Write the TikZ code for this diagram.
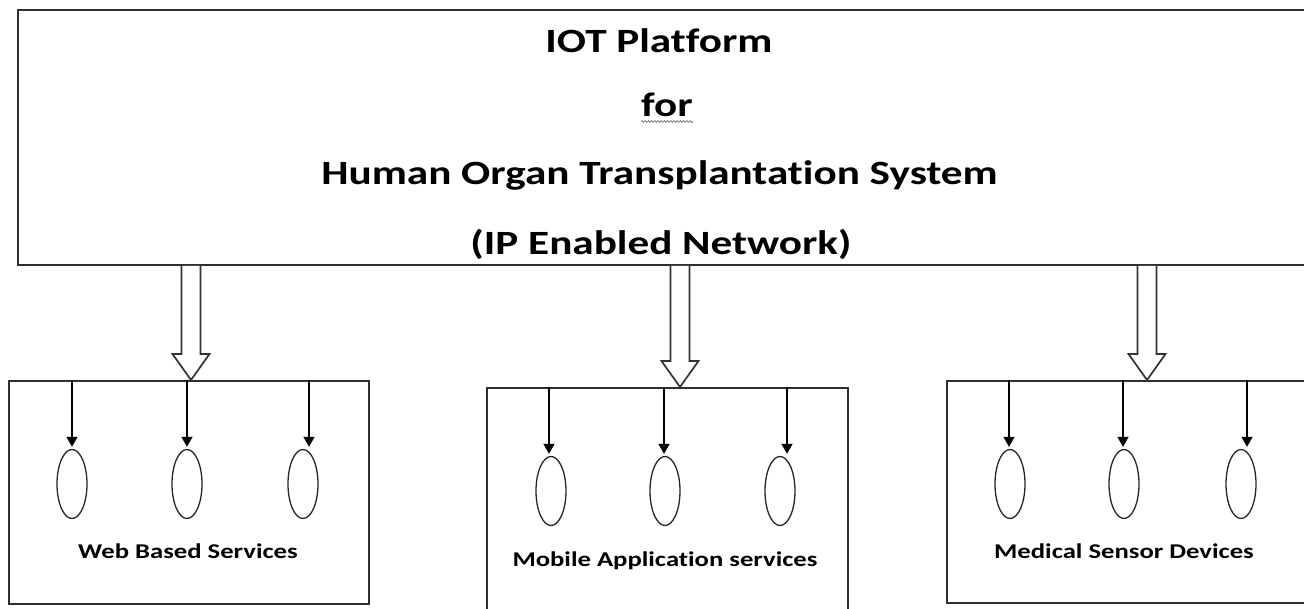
\documentclass[tikz,border=0pt]{standalone}
\usepackage{fontspec}
\usetikzlibrary{arrows.meta,shapes.geometric,decorations.pathmorphing}
\newfontfamily\diagfont{Carlito}[FakeStretch=1.27, RawFeature=-liga, RawFeature=-clig, RawFeature=-calt, RawFeature=-rlig]

\tikzset{
  frame/.style={draw=black!82, line width=2pt, rectangle, inner sep=0pt, anchor=north west},
  pod/.style={draw=black!85, line width=1.3pt, ellipse, minimum width=30pt, minimum height=69pt, inner sep=0pt},
  feed/.style={draw=black, line width=1.4pt, -{Triangle[width=11pt,length=10pt]}},
  hollow/.style={draw=black!80, line width=1.7pt, fill=white, line join=miter},
  heading/.style={font=\diagfont\bfseries\fontsize{34}{34}\selectfont, anchor=base, inner sep=0pt},
  caption/.style={font=\diagfont\bfseries\fontsize{21}{21}\selectfont, anchor=base, inner sep=0pt},
  squiggle/.style={draw=black!55, line width=0.7pt, decorate,
    decoration={snake, amplitude=0.9pt, segment length=3.2pt}}
}

% hollow block arrow from #1 (start, on the platform box) to #2 (tip)
\newcommand\hollowdown[2]{%
  \path[hollow]
    ([xshift=-9.5pt]#1) -- ([xshift=-9.5pt,yshift=26pt]#2)
    -- ([xshift=-18.5pt,yshift=26pt]#2) -- (#2)
    -- ([xshift=18.5pt,yshift=26pt]#2) -- ([xshift=9.5pt,yshift=26pt]#2)
    -- ([xshift=9.5pt]#1);}

\begin{document}
\begin{tikzpicture}[x=1pt, y=-1pt]
  \clip (0,0) rectangle (1304,609);
  \fill[white] (0,0) rectangle (1304,609);

  % platform box and its title
  \node[frame, minimum width=1300pt, minimum height=255pt] (top) at (17,9) {};
  \node[heading] (t1) at (659,53) {IOT Platform};
  \node[heading] (t2) at (667,117) {for};
  \node[heading] (t3) at (659.5,185) {Human Organ Transplantation System};
  \node[heading] (t4) at (661,255) {(IP Enabled Network)};
  \path[squiggle] ([yshift=-4.5pt]t2.base west) -- ([yshift=-4.5pt]t2.base east);

  % service boxes
  \node[frame, minimum width=360pt, minimum height=223pt] (web) at (8,380) {};
  \node[frame, minimum width=361pt, minimum height=240pt] (mob) at (486,387) {};
  \node[frame, minimum width=380pt, minimum height=222pt] (med) at (946,380) {};

  % block arrows from the platform to each service box
  \coordinate (w0) at (191,380);
  \coordinate (m0) at (680,387);
  \coordinate (d0) at (1147,380);
  \hollowdown{top.south -| w0}{w0}
  \hollowdown{top.south -| m0}{m0}
  \hollowdown{top.south -| d0}{d0}

  % ellipses inside the boxes
  \node[pod] (w1) at (72,484) {};
  \node[pod] (w2) at (187,484) {};
  \node[pod] (w3) at (303,484) {};
  \node[pod] (m1) at (551,491) {};
  \node[pod] (m2) at (665,491) {};
  \node[pod] (m3) at (780,491) {};
  \node[pod] (d1) at (1010,484) {};
  \node[pod] (d2) at (1124,484) {};
  \node[pod] (d3) at (1241,484) {};

  % feeds from each box's top edge down to its ellipses
  \foreach \e/\b/\dx in {w1/web/0, w2/web/0, w3/web/6,
                         m1/mob/-2, m2/mob/-1, m3/mob/7,
                         d1/med/-1, d2/med/-1, d3/med/6}{
    \draw[feed] ([xshift=\dx pt]\e.north |- \b.north) -- ([xshift=\dx pt, yshift=2pt]\e.north);
  }

  % box captions
  \node[caption] (cw) at (188,558) {Web Based Services};
  \node[caption] (cm) at (665,566) {Mobile Application services};
  \node[caption] (cd) at (1124,558) {Medical Sensor Devices};
\end{tikzpicture}
\end{document}
